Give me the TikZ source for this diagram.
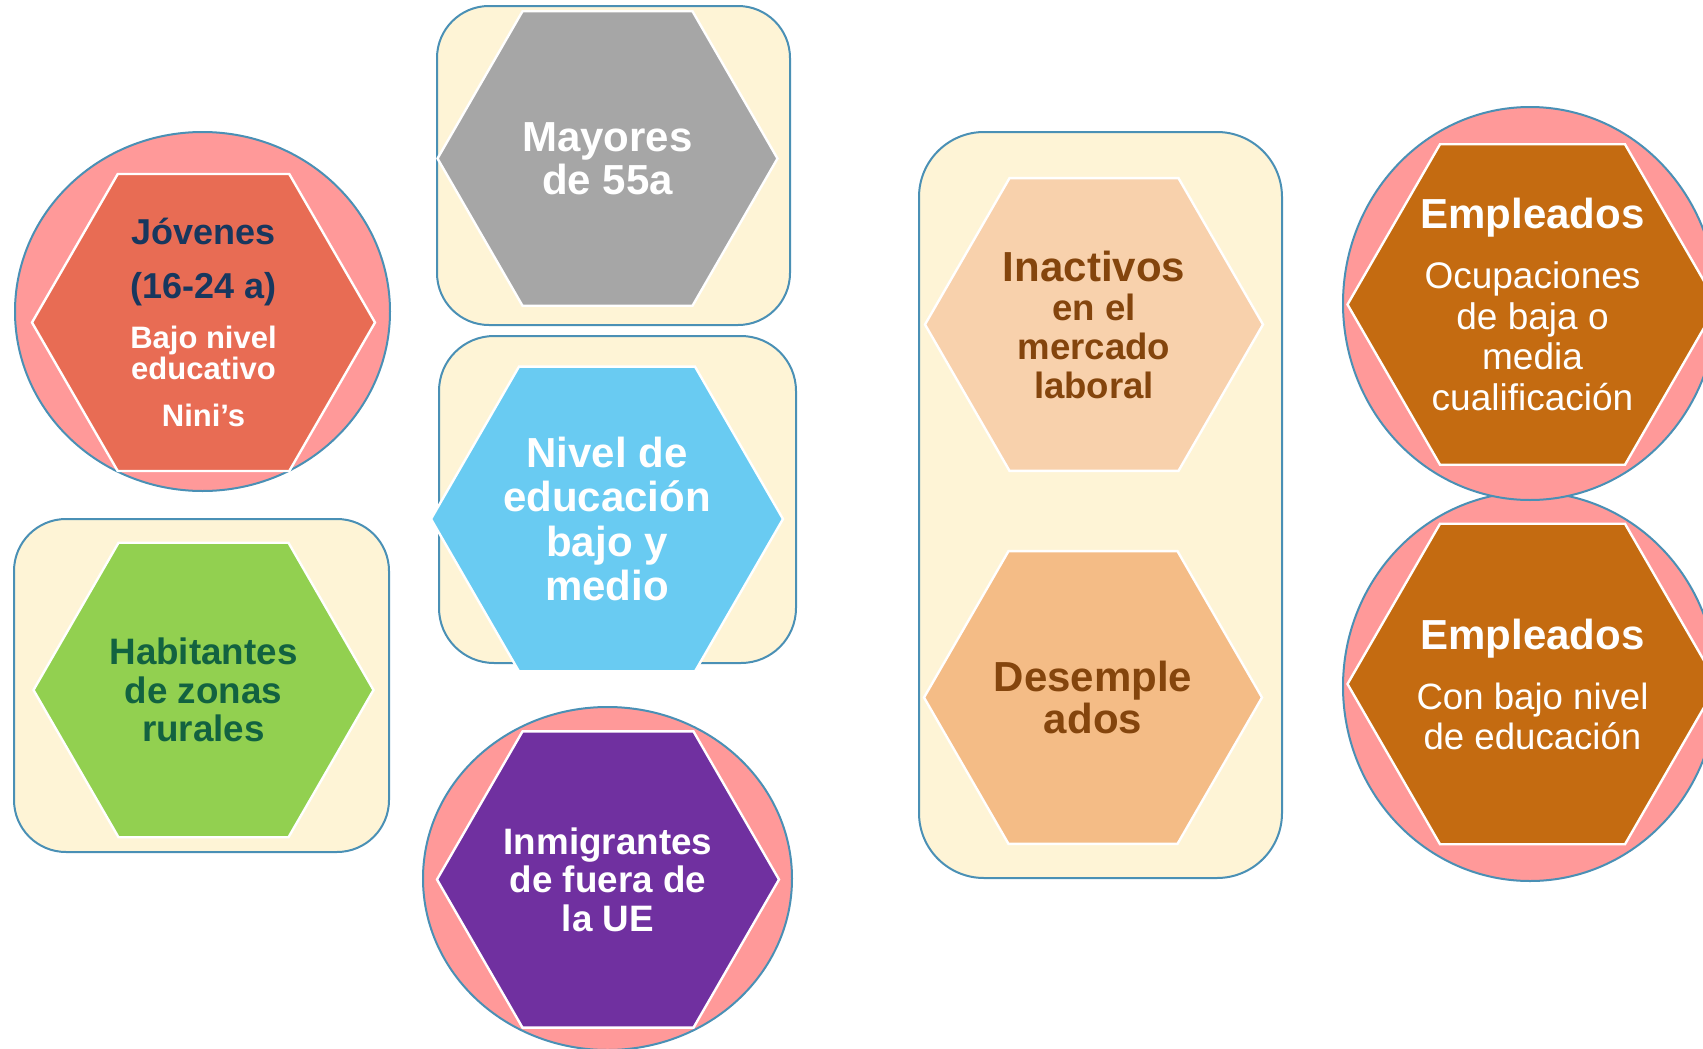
\documentclass[tikz,border=0pt]{standalone}
\usepackage{fontspec}
\setmainfont{Liberation Sans}
\usetikzlibrary{shapes.geometric}
\definecolor{rim}{RGB}{74,144,181}
\definecolor{pinkbg}{RGB}{255,153,153}
\definecolor{creambg}{RGB}{254,244,214}
\definecolor{hjov}{RGB}{232,108,84}
\definecolor{hmay}{RGB}{166,166,166}
\definecolor{hniv}{RGB}{105,203,242}
\definecolor{hinm}{RGB}{112,48,160}
\definecolor{hhab}{RGB}{146,208,80}
\definecolor{hina}{RGB}{248,209,172}
\definecolor{hdes}{RGB}{244,188,134}
\definecolor{hemp}{RGB}{196,107,17}
\definecolor{tjov}{RGB}{23,55,94}
\definecolor{thab}{RGB}{18,98,64}
\definecolor{tina}{RGB}{132,69,13}
\newcommand{\fs}[2]{\fontsize{#1}{#2}\selectfont}
\tikzset{
    bubble/.style={ellipse, draw=rim, line width=1pt, fill=pinkbg, inner sep=0pt},
    panel/.style={rectangle, rounded corners=#1, draw=rim, line width=1pt, fill=creambg, inner sep=0pt},
    panel/.default=26pt,
    hexa/.style={regular polygon, regular polygon sides=6, draw=white, line width=1.2pt, inner sep=0pt, minimum size=#1},
    txt/.style={align=center, inner sep=0pt, text=white},
}

\begin{document}
\begin{tikzpicture}[x=0.5pt,y=-0.5pt]
            \useasboundingbox (0,0) rectangle (1703,1049);
            \node[panel, minimum width=176.5pt, minimum height=159.5pt] (may-box) at (613.5,165.5) {};
            \node[panel=27.5pt, minimum width=178.5pt, minimum height=163.5pt] (niv-box) at (617.5,499.5) {};
            \node[panel, minimum width=187.5pt, minimum height=166.5pt] (hab-box) at (201.5,685.5) {};
            \node[panel=32.5pt, minimum width=181.5pt, minimum height=373pt] (lab-box) at (1100.5,505) {};
            \node[bubble, minimum width=187.5pt, minimum height=179.5pt] (jov-bg) at (202.5,311.5) {};
            \node[bubble, minimum width=184.5pt, minimum height=171.5pt] (inm-bg) at (607.5,878.5) {};
            \node[bubble, minimum width=187pt, minimum height=194.5pt] (emp2-bg) at (1530,686.5) {};
            \node[bubble, minimum width=187pt, minimum height=196.5pt] (emp1-bg) at (1530,303.5) {};

            \node[hexa=171.5pt, fill=hjov] (jov) at (203.5,322.5) {};
            \node[hexa=170pt, fill=hmay] (may) at (607.5,158.5) {};
            \node[hexa=176pt, fill=hniv] (niv) at (607,519) {};
            \node[hexa=171pt, fill=hinm] (inm) at (608,879.5) {};
            \node[hexa=170pt, fill=hhab] (hab) at (203.5,690) {};
            \node[hexa=169pt, fill=hina] (ina) at (1094,324.5) {};
            \node[hexa=169pt, fill=hdes] (des) at (1093,697.5) {};
            \node[hexa=185pt, fill=hemp] (emp1) at (1532.5,304.5) {};
            \node[hexa=185pt, fill=hemp] (emp2) at (1532.5,684) {};

            \node[txt, font=\bfseries\fs{15.5}{15.5}] (jov-t) at (jov) {\textcolor{tjov}{\fs{18}{18}Jóvenes}\\[11.5pt]
                \textcolor{tjov}{\fs{18}{18}(16-24 a)}\\[9.5pt] Bajo nivel\\ educativo\\[8pt] Nini’s};
            \node[txt, font=\bfseries\fs{21}{21.5}] (may-t) at (may) {Mayores\\ de 55a};
            \node[txt, font=\bfseries\fs{21}{22.1}] (niv-t) at (niv) {Nivel de\\ educación\\ bajo y\\ medio};
            \node[txt, font=\bfseries\fs{18.4}{19.25}] (inm-t) at (inm) {Inmigrantes\\ de fuera de\\ la UE};
            \node[txt, text=thab, font=\bfseries\fs{18.4}{19.25}] (hab-t) at (hab) {Habitantes\\ de zonas\\ rurales};
            \node[txt, text=tina, font=\bfseries\fs{18.3}{19.5}] (ina-t) at (ina) {\fs{21}{21}Inactivos\\ en el\\ mercado\\ laboral};
            \node[txt, text=tina, font=\bfseries\fs{21}{21.25}] (des-t) at (des) {Desemple\\ ados};
            \node[txt, font=\fs{18.5}{20.3}] (emp1-t) at (emp1) {\bfseries\fs{21}{21}Empleados\\[9.7pt]
                Ocupaciones\\ de baja o\\ media\\ cualificación};
            \node[txt, font=\fs{18.3}{20}] (emp2-t) at (emp2) {\bfseries\fs{21}{21}Empleados\\[10pt]
                Con bajo nivel\\ de educación};
\end{tikzpicture}
\end{document}
